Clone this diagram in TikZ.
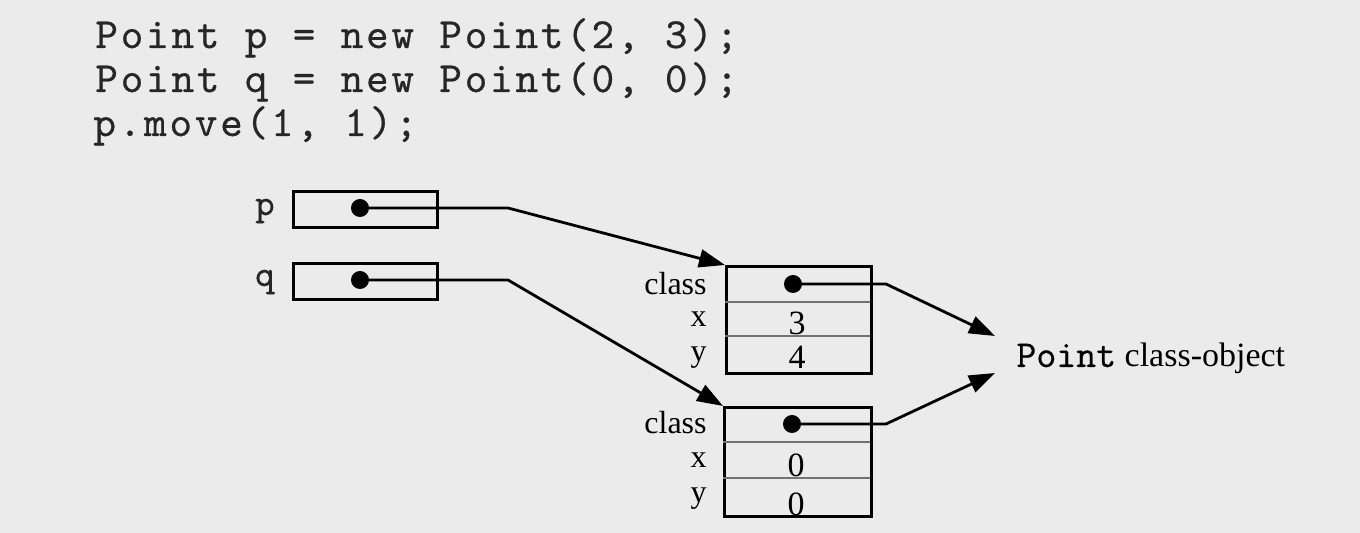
\documentclass[tikz,border=0pt]{standalone}
\usepackage{fontspec}
\setmainfont{Liberation Serif}
\newfontfamily\codefont{lmmono10-regular.otf}[LetterSpace=6.5,FakeBold=0.5]
\newfontfamily\namefont{lmmono10-regular.otf}[FakeBold=0.4]
\usetikzlibrary{arrows.meta}

\begin{document}
\begin{tikzpicture}[x=0.5pt,y=-0.5pt,
  ptr/.style={-{Triangle[length=13pt,width=9pt]}, line width=1.4pt, line join=miter},
  cell/.style={draw, line width=1.3pt, inner sep=0pt, anchor=north west},
  divider/.style={draw=black!55, line width=1pt},
  dotmark/.style={circle, fill=black, inner sep=0pt, minimum size=9pt},
  code/.style={anchor=base west, inner sep=0pt, font=\codefont\fontsize{21.5}{26}\selectfont, text=black!85},
  var/.style={anchor=base east, inner sep=0pt, font=\namefont\fontsize{18.5}{22}\selectfont, text=black!85},
  lbl/.style={anchor=base east, inner sep=0pt, font=\fontsize{16}{19}\selectfont},
  val/.style={anchor=base, inner sep=0pt, font=\fontsize{17}{20}\selectfont}]

% paper
\fill[black!8] (0,0) rectangle (1360,533);
\useasboundingbox (0,0) rectangle (1360,533);

% source lines
\node[code] (l1) at (95,48)  {Point p = new Point(2, 3);};
\node[code] (l2) at (95,92)  {Point q = new Point(0, 0);};
\node[code] (l3) at (93,136) {p.move(1, 1);};

% reference variables
\node[cell, minimum width=72pt, minimum height=18pt] (pbox) at (292,190) {};
\node[cell, minimum width=72pt, minimum height=18pt] (qbox) at (292,262) {};
\node[var] (plbl) at (275,215) {p};
\node[var] (qlbl) at (275,286) {q};
\node[dotmark] (pd) at (360,208) {};
\node[dotmark] (qd) at (360,280) {};

% object records
\node[cell, minimum width=72.5pt, minimum height=53.5pt] (obj1) at (725,265) {};
\node[cell, minimum width=73.5pt, minimum height=54.5pt] (obj2) at (723,406) {};
\draw[divider] (725,302) -- (870,302);
\draw[divider] (725,336) -- (870,336);
\draw[divider] (723,442) -- (870,442);
\draw[divider] (723,478) -- (870,478);

\node[lbl] (c1) at (707,295) {class};
\node[lbl] (x1) at (707,327) {x};
\node[lbl] (y1) at (707,362) {y};
\node[lbl] (c2) at (707,434) {class};
\node[lbl] (x2) at (707,468) {x};
\node[lbl] (y2) at (707,503) {y};

\node[val] (x1v) at (797,335) {3};
\node[val] (y1v) at (797,369) {4};
\node[val] (x2v) at (796,477) {0};
\node[val] (y2v) at (796,516) {0};

\node[dotmark] (o1d) at (793,284) {};
\node[dotmark] (o2d) at (792,424) {};

% class object
\node[anchor=base west, inner sep=0pt, font=\fontsize{17}{20}\selectfont] (pco) at (1016,367)
  {{\namefont\fontsize{19}{22}\selectfont Point} class-object};
\coordinate (cin1) at (995,336);
\coordinate (cin2) at (995,373);

% pointers
\coordinate (pbend) at (508,208);
\coordinate (qbend) at (508,280);
\coordinate (o1bend) at (886,284);
\coordinate (o2bend) at (886,424);
\draw[ptr] (pd.center) -- (pbend) -- (obj1.north west);
\draw[ptr] (qd.center) -- (qbend) -- (obj2.north west);
\draw[ptr] (o1d.center) -- (o1bend) -- (cin1);
\draw[ptr] (o2d.center) -- (o2bend) -- (cin2);
\end{tikzpicture}
\end{document}
